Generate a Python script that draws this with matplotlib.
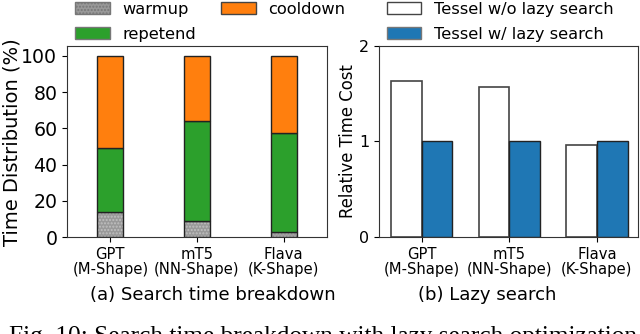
import matplotlib.pyplot as plt
import numpy as np
from matplotlib.patches import Patch

# data
models = ['GPT\n(M-Shape)', 'mT5\n(NN-Shape)', 'Flava\n(K-Shape)']
warmup = [13.6, 8.8, 2.6]
repetend = [35.7, 55.2, 54.7]
cooldown = [50.7, 36.0, 42.7]

no_lazy = [1.63, 1.57, 0.96]
with_lazy = [1.0, 1.0, 1.0]

fig = plt.figure(figsize=(6.4, 3.34), dpi=100)
ax1 = fig.add_axes([0.1047, 0.2904, 0.406, 0.572])
ax2 = fig.add_axes([0.592, 0.2904, 0.405, 0.572])

x = np.arange(len(models))
w = 0.3
bot2 = np.array(warmup) + np.array(repetend)
ax1.bar(x, warmup, w, color='#999999', edgecolor='#c0c0c0', hatch='.....', lw=0)
ax1.bar(x, warmup, w, fill=False, edgecolor='#222222', lw=1.0)
ax1.bar(x, repetend, w, bottom=warmup, color='#2ca02c', edgecolor='#222222', lw=1.0)
ax1.bar(x, cooldown, w, bottom=bot2, color='#ff7f0e', edgecolor='#222222', lw=1.0)
ax1.set_xlim(-0.5, 2.5)
ax1.set_ylim(0, 105.5)
ax1.set_yticks([0, 20, 40, 60, 80, 100])
ax1.set_xticks(x)
ax1.set_xticklabels(models, fontsize=10.6, linespacing=1.0)
ax1.tick_params(axis='y', labelsize=13.6)
ax1.set_ylabel('Time Distribution (%)', fontsize=14)
ax1.yaxis.set_label_coords(-0.175, 0.497)

h_warm = Patch(facecolor='#999999', edgecolor='#777777', hatch='.....')
h_rep = Patch(facecolor='#2ca02c', edgecolor='#777777')
h_cool = Patch(facecolor='#ff7f0e', edgecolor='#444444')
fig.legend([h_warm, h_rep, h_cool], ['warmup', 'repetend', 'cooldown'], ncol=2,
           loc='upper left', bbox_to_anchor=(0.1, 1.028), frameon=False,
           fontsize=11.7, handlelength=2.1, handleheight=0.75, columnspacing=1.55,
           labelspacing=0.6, handletextpad=0.8, borderpad=0.2)

w2 = 0.35
ax2.bar(x - w2 / 2, no_lazy, w2, color='white', edgecolor='#444444', lw=1.2)
ax2.bar(x + w2 / 2, with_lazy, w2, color='#1f77b4', edgecolor='#222222', lw=1.0)
ax2.set_xlim(-0.49, 2.47)
ax2.set_ylim(0, 2)
ax2.set_yticks([0, 1, 2])
ax2.set_xticks(x)
ax2.set_xticklabels(models, fontsize=10.6, linespacing=1.0)
ax2.tick_params(axis='y', labelsize=11.5)
ax2.set_ylabel('Relative Time Cost', fontsize=11.9)
ax2.yaxis.set_label_coords(-0.085, 0.5)
h_no = Patch(facecolor='white', edgecolor='#444444')
h_w = Patch(facecolor='#1f77b4', edgecolor='#777777')
fig.legend([h_no, h_w], ['Tessel w/o lazy search', 'Tessel w/ lazy search'],
           loc='upper left', bbox_to_anchor=(0.587, 1.028), frameon=False,
           fontsize=11.7, handlelength=2.1, handleheight=0.75,
           labelspacing=0.6, handletextpad=0.8, borderpad=0.2)

for ax in (ax1, ax2):
    for s in ax.spines.values():
        s.set_color('#333333')

fig.text(213 / 640, 1 - 295 / 334, '(a) Search time breakdown', fontsize=13.1,
         ha='center', va='center')
fig.text(487 / 640, 1 - 295 / 334, '(b) Lazy search', fontsize=13.1,
         ha='center', va='center')
fig.text(323 / 640, -0.027, 'Fig. 10: Search time breakdown with lazy search optimization',
         family='Liberation Serif', fontsize=18.2, ha='center', va='baseline')

fig.savefig('out.png', dpi=100)
